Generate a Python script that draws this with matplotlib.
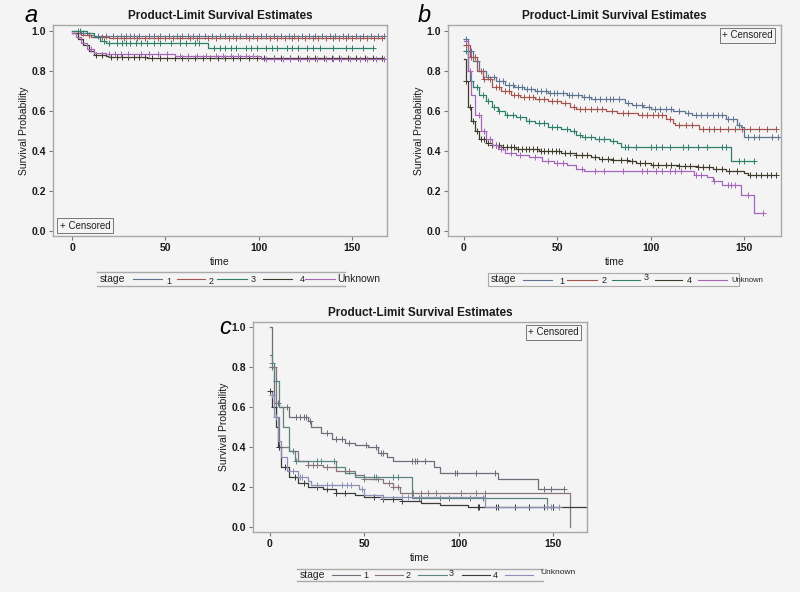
import numpy as np
import matplotlib
matplotlib.use('Agg')
import matplotlib.pyplot as plt
from matplotlib.lines import Line2D
from matplotlib.patches import Rectangle

plt.rcParams['font.family'] = ['Liberation Sans', 'DejaVu Sans']

W, H = 800, 592
bg = '#f4f4f4'

stages = ['1', '2', '3', '4', 'Unknown']
colors_ab = ['#5d7490', '#a4544f', '#2e7e6c', '#3e3b28', '#a565b8']
colors_c = ['#6c6e7a', '#8a7478', '#5d8282', '#3a3a3a', '#8c90b4']

# ---- panel a : step times / survival / censor times
a_times = {
    '1': [0, 5, 8, 12],
    '2': [0, 5, 10, 20],
    '3': [0, 8, 12, 15, 18, 73],
    '4': [0, 3, 6, 9, 12, 18, 20, 40],
    'Unknown': [0, 2, 5, 8, 12, 18, 55, 101],
}
a_surv = {
    '1': [1.0, 0.99, 0.98, 0.975],
    '2': [0.99, 0.98, 0.97, 0.965],
    '3': [1.0, 0.99, 0.97, 0.95, 0.94, 0.915],
    '4': [0.99, 0.96, 0.93, 0.90, 0.88, 0.875, 0.87, 0.865],
    'Unknown': [0.99, 0.97, 0.94, 0.91, 0.89, 0.885, 0.875, 0.86],
}
a_cens = {
    '1': [3, 6, 14, 18, 22, 26, 29, 31, 33, 36, 41, 44, 47, 52, 56, 59, 62, 65, 68, 71, 75,
          79, 82, 86, 90, 93, 97, 101, 104, 108, 112, 116, 119, 123, 127, 130, 134, 138,
          141, 145, 148, 152, 156, 160, 164, 167],
    '2': [9, 16, 24, 28, 35, 39, 46, 50, 54, 58, 63, 67, 73, 77, 84, 88, 95, 99, 106, 110,
          114, 118, 121, 125, 129, 132, 136, 140, 143, 147, 150, 154, 158, 162, 166],
    '3': [4, 17, 20, 24, 27, 29, 31, 34, 37, 40, 44, 47, 53, 58, 61, 66, 68, 76, 79, 82, 85,
          88, 93, 96, 99, 104, 107, 110, 115, 118, 121, 126, 129, 133, 140, 147, 150, 156, 161],
    '4': [13, 16, 21, 24, 27, 30, 33, 36, 39, 43, 47, 51, 55, 59, 62, 66, 70, 74, 78, 82, 86,
          90, 95, 99, 103, 108, 112, 117, 121, 126, 130, 135, 139, 143, 148, 152, 157, 161, 166],
    'Unknown': [10, 20, 23, 26, 30, 37, 41, 46, 51, 58, 62, 67, 72, 77, 81, 85, 89, 93, 97,
                104, 108, 113, 117, 122, 127, 131, 136, 140, 144, 149, 154, 158, 163, 167],
}

# ---- panel b
b_times = {
    '1': [0, 2, 5, 8, 12, 17, 22, 27, 32, 38, 45, 55, 63, 68, 86, 90, 96, 100, 112, 118,
          122, 140, 146, 148, 150],
    '2': [0, 3, 7, 10, 15, 20, 25, 30, 38, 45, 52, 57, 60, 76, 82, 93, 108, 112, 113, 126],
    '3': [0, 2, 3, 5, 8, 12, 15, 18, 22, 28, 33, 38, 45, 52, 57, 60, 63, 70, 78, 82, 84, 143],
    '4': [0, 1, 2, 4, 6, 8, 12, 15, 20, 28, 40, 52, 60, 68, 72, 80, 88, 92, 100, 115, 125,
          133, 140, 150, 152],
    'Unknown': [0, 2, 4, 6, 9, 12, 15, 18, 22, 28, 35, 42, 48, 55, 60, 64, 123, 130, 133,
                138, 148, 155],
}
b_surv = {
    '1': [0.96, 0.9, 0.85, 0.8, 0.77, 0.75, 0.73, 0.72, 0.71, 0.70, 0.69, 0.68, 0.67, 0.66,
          0.64, 0.63, 0.62, 0.61, 0.60, 0.59, 0.58, 0.56, 0.53, 0.52, 0.47],
    '2': [0.93, 0.87, 0.80, 0.76, 0.72, 0.70, 0.68, 0.67, 0.66, 0.65, 0.64, 0.62, 0.61, 0.60,
          0.59, 0.58, 0.56, 0.54, 0.53, 0.51],
    '3': [0.90, 0.80, 0.75, 0.72, 0.68, 0.65, 0.62, 0.60, 0.58, 0.57, 0.55, 0.54, 0.52, 0.51,
          0.50, 0.48, 0.47, 0.46, 0.45, 0.44, 0.42, 0.35],
    '4': [0.86, 0.75, 0.62, 0.55, 0.50, 0.46, 0.44, 0.43, 0.42, 0.41, 0.40, 0.39, 0.38, 0.37,
          0.36, 0.355, 0.35, 0.34, 0.33, 0.325, 0.32, 0.31, 0.30, 0.29, 0.28],
    'Unknown': [0.95, 0.80, 0.68, 0.58, 0.50, 0.46, 0.43, 0.41, 0.39, 0.38, 0.37, 0.35, 0.34,
                0.33, 0.31, 0.30, 0.28, 0.27, 0.25, 0.23, 0.18, 0.09],
}
b_cens = {
    '1': [1, 4, 7, 10, 13, 16, 19, 21, 24, 26, 29, 31, 34, 36, 39, 41, 44, 46, 48, 50, 53,
          56, 58, 61, 64, 67, 70, 73, 76, 78, 80, 83, 88, 92, 95, 99, 102, 105, 108, 111, 115,
          120, 124, 127, 130, 133, 136, 138, 141, 144, 147, 152, 155, 158, 165, 168],
    '2': [1, 4, 6, 9, 11, 14, 17, 19, 22, 24, 27, 29, 32, 35, 37, 40, 43, 47, 50, 54, 59, 62,
          65, 68, 71, 74, 79, 85, 88, 95, 98, 101, 104, 106, 110, 115, 119, 122, 128, 131,
          134, 137, 141, 145, 149, 153, 158, 162, 167],
    '3': [1, 4, 7, 10, 13, 16, 19, 23, 26, 30, 35, 40, 43, 47, 50, 55, 59, 62, 65, 68, 72,
          75, 80, 86, 88, 92, 100, 103, 106, 110, 117, 120, 125, 130, 138, 140, 147, 150, 155],
    '4': [1, 3, 5, 7, 9, 11, 13, 15, 17, 19, 21, 23, 25, 27, 29, 31, 33, 35, 37, 39, 41, 43,
          45, 47, 49, 51, 54, 57, 60, 63, 66, 70, 74, 77, 80, 84, 87, 90, 94, 97, 101, 104,
          108, 111, 115, 118, 121, 125, 128, 131, 135, 138, 142, 146, 153, 156, 159, 162,
          164, 167],
    'Unknown': [3, 8, 11, 14, 17, 20, 25, 30, 38, 45, 50, 53, 63, 70, 75, 85, 95, 98, 103,
                106, 110, 113, 116, 124, 127, 134, 141, 143, 145, 152, 160],
}

# ---- panel c
c_times = {
    '1': [0, 1, 2, 5, 10, 20, 22, 27, 33, 40, 45, 52, 57, 62, 65, 87, 90, 121, 142],
    '2': [0, 3, 5, 10, 15, 20, 28, 35, 45, 50, 60, 65, 69, 159],
    '3': [0, 1, 2, 5, 7, 10, 13, 35, 40, 45, 55, 75, 147],
    '4': [0, 1, 3, 4, 6, 10, 15, 20, 28, 35, 45, 50, 60, 70, 80, 90, 105],
    'Unknown': [0, 2, 4, 6, 9, 15, 20, 22, 40, 47, 50, 60, 114],
}
c_surv = {
    '1': [1.0, 0.80, 0.62, 0.60, 0.55, 0.53, 0.50, 0.47, 0.44, 0.42, 0.41, 0.40, 0.37, 0.35,
          0.33, 0.30, 0.27, 0.24, 0.19],
    '2': [0.80, 0.55, 0.40, 0.38, 0.33, 0.31, 0.30, 0.28, 0.26, 0.24, 0.22, 0.20, 0.17, 0.0],
    '3': [0.86, 0.82, 0.73, 0.60, 0.50, 0.38, 0.33, 0.30, 0.27, 0.25, 0.25, 0.145, 0.10],
    '4': [0.68, 0.60, 0.50, 0.40, 0.30, 0.25, 0.22, 0.20, 0.19, 0.17, 0.16, 0.15, 0.14, 0.13,
          0.12, 0.11, 0.10],
    'Unknown': [0.66, 0.55, 0.43, 0.35, 0.28, 0.25, 0.23, 0.21, 0.21, 0.19, 0.16, 0.15, 0.10],
}
c_cens = {
    '1': [1, 4, 9, 14, 16, 18, 19, 21, 30, 35, 38, 42, 51, 56, 59, 60, 75, 77, 78, 82, 98,
          99, 109, 119, 145, 149, 156],
    '2': [2, 5, 20, 23, 25, 30, 40, 42, 50, 57, 63, 65, 68, 76, 80, 84, 88, 101, 109, 114],
    '3': [1, 3, 12, 14, 25, 27, 34, 50, 55, 56, 65, 68, 79, 80, 90, 95, 106, 113, 114, 150],
    '4': [0, 2, 5, 8, 13, 18, 25, 30, 35, 40, 55, 60, 65, 70, 110, 111, 120, 121, 130, 137,
          145, 150, 168],
    'Unknown': [1, 3, 12, 16, 17, 25, 30, 33, 38, 41, 43, 49, 60, 70, 73, 147, 149, 153],
}

xticks = [0, 50, 100, 150]
yticks = [0.0, 0.2, 0.4, 0.6, 0.8, 1.0]


def km(ax, t, s, c, color):
    end = max(t[-1], max(c))
    tt = list(t) + [end]
    ss = list(s) + [s[-1]]
    ax.step(tt, ss, where='post', color=color, lw=0.9)
    t_arr = np.array(t)
    idx = np.searchsorted(t_arr, np.array(c), side='right') - 1
    yc = np.array(s)[idx]
    ax.plot(c, yc, ls='none', marker='+', ms=5, mew=0.7, color=color)


def setup(ax, xlim, ylim):
    ax.set_facecolor(bg)
    ax.set_xlim(*xlim)
    ax.set_ylim(*ylim)
    ax.set_xticks(xticks)
    ax.set_yticks(yticks)
    ax.set_yticklabels(['%.1f' % v for v in yticks])
    for sp in ax.spines.values():
        sp.set_color('#a8a8a8')
        sp.set_linewidth(1.0)
    ax.tick_params(direction='out', length=3, width=0.8, color='#777777', pad=2,
                   labelsize=7.5, labelcolor='#1a1a1a')
    for lab in ax.get_xticklabels() + ax.get_yticklabels():
        lab.set_fontweight('bold')
    ax.set_xlabel('time', fontsize=7.5, color='#1a1a1a', labelpad=3)
    ax.set_ylabel('Survival Probability', fontsize=7.5, color='#1a1a1a', labelpad=2)
    ax.set_title('Product-Limit Survival Estimates', fontsize=8.5, fontweight='bold',
                 color='#1a1a1a', pad=4)


def box_text(ax, x, y, ha, va):
    ax.text(x, y, '+ Censored', transform=ax.transAxes, ha=ha, va=va, fontsize=7,
            color='#222222',
            bbox=dict(boxstyle='square,pad=0.25', fc=bg, ec='#777777', lw=0.7))


def px(x, y):
    return x / W, 1 - y / H


def stage_legend(fig, x0, x1, ytop, ybot, segs, labs, colors, boxed, unk_size):
    if boxed:
        fig.add_artist(Rectangle(px(x0, ybot), (x1 - x0) / W, (ybot - ytop) / H,
                                 transform=fig.transFigure, fc='none', ec='#aaaaaa', lw=0.8))
    else:
        for yy in (ytop, ybot):
            fig.add_artist(Line2D([x0 / W, x1 / W], [1 - yy / H] * 2,
                                  transform=fig.transFigure, color='#aaaaaa', lw=1.0))
    ym = (ytop + ybot) / 2
    fig.text(*px(x0 + 3, ym), 'stage', fontsize=7.5, ha='left', va='center', color='#222222')
    for (sa, sb), (lx, ly), col, name in zip(segs, labs, colors, stages):
        fig.add_artist(Line2D([sa / W, sb / W], [1 - ym / H] * 2,
                              transform=fig.transFigure, color=col, lw=0.8))
        fs = unk_size if name == 'Unknown' else 6.5
        fig.text(*px(lx, ly), name, fontsize=fs, ha='left', va='center', color='#222222')


fig = plt.figure(figsize=(8, 5.92), dpi=100, facecolor=bg)

# panel a
ax_a = fig.add_axes([53 / W, 1 - 236 / H, 334 / W, 211 / H])
setup(ax_a, (-10.2, 168.7), (-0.025, 1.03))
for i, st in enumerate(stages):
    km(ax_a, a_times[st], a_surv[st], a_cens[st], colors_ab[i])
box_text(ax_a, 0.02, 0.025, 'left', 'bottom')
fig.text(*px(24, 15), 'a', fontsize=17, style='italic', ha='left', va='center')
stage_legend(fig, 97, 345, 272, 286,
             [(133, 162), (177, 205), (217, 247), (263, 292), (305, 335)],
             [(166, 281), (209, 281), (251, 279), (300, 279), (337, 279)],
             colors_ab, False, 7.5)

# panel b
ax_b = fig.add_axes([448 / W, 1 - 236 / H, 333 / W, 211 / H])
setup(ax_b, (-8.5, 169.6), (-0.025, 1.03))
for i, st in enumerate(stages):
    km(ax_b, b_times[st], b_surv[st], b_cens[st], colors_ab[i])
box_text(ax_b, 0.975, 0.975, 'right', 'top')
fig.text(*px(418, 15), 'b', fontsize=17, style='italic', ha='left', va='center')
stage_legend(fig, 488, 739, 273, 286,
             [(523, 552), (567, 597), (612, 640), (655, 682), (698, 727)],
             [(559, 281), (602, 280), (644, 278), (687, 280), (731, 280)],
             colors_ab, True, 5.5)

# panel c
ax_c = fig.add_axes([253 / W, 1 - 532 / H, 334 / W, 210 / H])
setup(ax_c, (-9, 168), (-0.025, 1.025))
for i, st in enumerate(stages):
    km(ax_c, c_times[st], c_surv[st], c_cens[st], colors_c[i])
box_text(ax_c, 0.975, 0.975, 'right', 'top')
fig.text(*px(219, 328), 'c', fontsize=17, style='italic', ha='left', va='center')
stage_legend(fig, 297, 543, 569, 581,
             [(332, 360), (375, 403), (418, 447), (462, 490), (505, 533)],
             [(363, 576), (406, 576), (449, 573), (493, 576), (540, 573)],
             colors_c, False, 6)

fig.savefig('out.png', dpi=100, facecolor=bg)
